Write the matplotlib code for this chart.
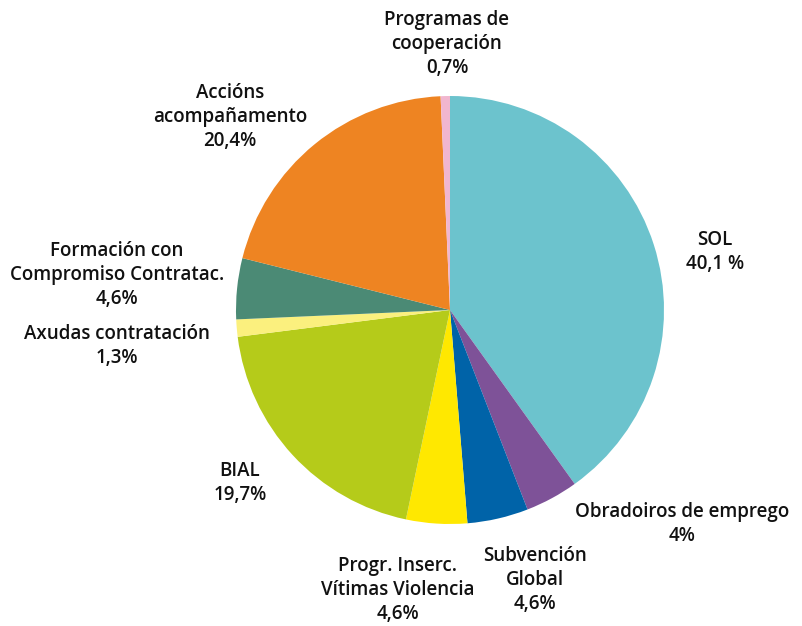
import matplotlib.pyplot as plt

# Datos do gráfico (orde horaria desde arriba)
labels = ['SOL\n40,1 %', 'Obradoiros de emprego\n4%', 'Subvención\nGlobal\n4,6%',
          'Progr. Inserc.\nVítimas Violencia\n4,6%', 'BIAL\n19,7%',
          'Axudas contratación\n1,3%', 'Formación con\nCompromiso Contratac.\n4,6%',
          'Accións\nacompañamento\n20,4%', 'Programas de\ncooperación\n0,7%']
values = [40.1, 4, 4.6, 4.6, 19.7, 1.3, 4.6, 20.4, 0.7]
colors = ['#6cc3cd', '#7e5298', '#0063a8', '#ffe800', '#b5cb1a',
          '#fbf07e', '#4b8a75', '#ee8422', '#f1b6cf']

# Posicións das etiquetas (píxeles, centro do bloque de texto)
label_pos = [(715, 252), (682, 524), (535, 580), (398, 590), (240, 483),
             (117, 346), (117, 275), (230, 117), (447, 44)]

W, H = 802, 626
fig = plt.figure(figsize=(W / 100, H / 100), dpi=100)
ax = fig.add_axes([0, 0, 1, 1])

ax.pie(values, colors=colors, startangle=90, counterclock=False,
       center=(450, H - 310), radius=214,
       wedgeprops={'linewidth': 0})

ax.set_xlim(0, W)
ax.set_ylim(0, H)
ax.set_aspect('equal')
ax.axis('off')

for lab, (x, y) in zip(labels, label_pos):
    ax.text(x, H - y, lab, ha='center', va='center', fontsize=13.5,
            family='Open Sans', weight='semibold', linespacing=1.25,
            color='#111111')

fig.savefig('out.png', dpi=100)
